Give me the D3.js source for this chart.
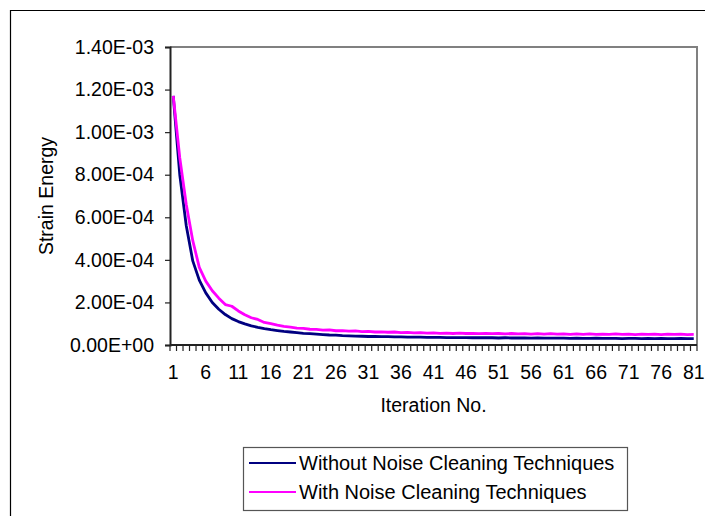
<!DOCTYPE html>
<html>
<head>
<meta charset="utf-8">
<script src="https://cdn.jsdelivr.net/npm/d3@7"></script>
<style>
    body { margin: 0; background: #fff; }
    svg text { font-family: "Liberation Sans", Arial, sans-serif; fill: #000; }
</style>
</head>
<body>
<svg id="chart" width="705" height="516"></svg>
<script>
// Iterations 1..81
const iterations = d3.range(1, 82);

// Strain energy
const withoutNoise = [
    1.170e-3, 0.800e-3, 0.560e-3, 0.395e-3, 0.305e-3, 0.245e-3, 0.200e-3, 0.168e-3, 0.143e-3, 0.124e-3,
    0.110e-3, 0.099e-3, 0.090e-3, 0.083e-3, 0.077e-3, 0.072e-3, 0.068e-3, 0.064e-3, 0.061e-3, 0.058e-3,
    0.055e-3, 0.053e-3, 0.051e-3, 0.049e-3, 0.047e-3, 0.046e-3, 0.044e-3, 0.043e-3, 0.042e-3, 0.041e-3,
    0.040e-3, 0.040e-3, 0.039e-3, 0.039e-3, 0.038e-3, 0.038e-3, 0.037e-3, 0.037e-3, 0.037e-3, 0.036e-3,
    0.036e-3, 0.036e-3, 0.035e-3, 0.035e-3, 0.035e-3, 0.035e-3, 0.034e-3, 0.034e-3, 0.034e-3, 0.034e-3,
    0.033e-3, 0.034e-3, 0.033e-3, 0.033e-3, 0.033e-3, 0.032e-3, 0.033e-3, 0.032e-3, 0.032e-3, 0.032e-3,
    0.032e-3, 0.031e-3, 0.032e-3, 0.031e-3, 0.031e-3, 0.032e-3, 0.031e-3, 0.031e-3, 0.031e-3, 0.030e-3,
    0.031e-3, 0.031e-3, 0.030e-3, 0.031e-3, 0.030e-3, 0.031e-3, 0.030e-3, 0.030e-3, 0.031e-3, 0.030e-3,
    0.030e-3
];
const withNoise = [
    1.170e-3, 0.880e-3, 0.660e-3, 0.490e-3, 0.365e-3, 0.300e-3, 0.255e-3, 0.220e-3, 0.190e-3, 0.182e-3,
    0.160e-3, 0.142e-3, 0.128e-3, 0.120e-3, 0.106e-3, 0.100e-3, 0.093e-3, 0.087e-3, 0.084e-3, 0.079e-3,
    0.078e-3, 0.074e-3, 0.073e-3, 0.070e-3, 0.071e-3, 0.067e-3, 0.068e-3, 0.065e-3, 0.066e-3, 0.063e-3,
    0.064e-3, 0.061e-3, 0.062e-3, 0.060e-3, 0.061e-3, 0.058e-3, 0.059e-3, 0.057e-3, 0.058e-3, 0.056e-3,
    0.057e-3, 0.055e-3, 0.056e-3, 0.054e-3, 0.056e-3, 0.054e-3, 0.055e-3, 0.053e-3, 0.055e-3, 0.053e-3,
    0.054e-3, 0.052e-3, 0.054e-3, 0.052e-3, 0.053e-3, 0.051e-3, 0.053e-3, 0.051e-3, 0.053e-3, 0.051e-3,
    0.052e-3, 0.050e-3, 0.052e-3, 0.050e-3, 0.052e-3, 0.050e-3, 0.051e-3, 0.050e-3, 0.052e-3, 0.050e-3,
    0.051e-3, 0.049e-3, 0.051e-3, 0.050e-3, 0.051e-3, 0.049e-3, 0.051e-3, 0.050e-3, 0.051e-3, 0.049e-3,
    0.050e-3
];

const seriesNames = ['Without Noise Cleaning Techniques', 'With Noise Cleaning Techniques'];
const seriesColors = ['#000080', '#FF00FF'];

const yTicks = [0, 2e-4, 4e-4, 6e-4, 8e-4, 10e-4, 12e-4, 14e-4];
const yTickLabels = ['0.00E+00', '2.00E-04', '4.00E-04', '6.00E-04', '8.00E-04', '1.00E-03', '1.20E-03', '1.40E-03'];
const xTickLabels = [1, 6, 11, 16, 21, 26, 31, 36, 41, 46, 51, 56, 61, 66, 71, 76, 81];

const fontSize = '19.5px';
const svg = d3.select('#chart');

// outer frame
svg.append('path')
    .attr('d', 'M10.5,516 V10.5 H705')
    .attr('fill', 'none')
    .attr('stroke', '#000')
    .attr('stroke-width', 1.2);

const plot = { left: 170, top: 47, right: 697, bottom: 345 };

const x = d3.scaleBand()
    .domain(iterations)
    .range([plot.left, plot.right])
    .padding(0);

const y = d3.scaleLinear()
    .domain([0, 1.4e-3])
    .range([plot.bottom, plot.top]);

// plot border (top / right in grey)
svg.append('path')
    .attr('d', `M${plot.left},${plot.top} H${plot.right} V${plot.bottom}`)
    .attr('fill', 'none')
    .attr('stroke', '#808080')
    .attr('stroke-width', 2);

// Y axis
const yAxis = svg.append('g')
    .attr('transform', `translate(${plot.left},0)`)
    .call(d3.axisLeft(y)
        .tickValues(yTicks)
        .tickFormat((d, i) => yTickLabels[i])
        .tickSize(5)
        .tickPadding(11));
yAxis.select('.domain').attr('stroke', '#222').attr('stroke-width', 2);
yAxis.selectAll('.tick line').attr('stroke', '#222').attr('stroke-width', 1.2);
yAxis.selectAll('text').style('font-size', fontSize);

// X axis: ticks between categories, labels every 5th
const xAxis = svg.append('g')
    .attr('transform', `translate(0,${plot.bottom})`);
xAxis.append('line')
    .attr('x1', plot.left).attr('x2', plot.right)
    .attr('stroke', '#222').attr('stroke-width', 2);
xAxis.selectAll('.xtick')
    .data(iterations.concat(['end']))
    .enter().append('line')
    .attr('class', 'xtick')
    .attr('x1', d => d === 'end' ? x.range()[1] : x(d))
    .attr('x2', d => d === 'end' ? x.range()[1] : x(d))
    .attr('y1', 0).attr('y2', 6)
    .attr('stroke', '#222').attr('stroke-width', 1.2);
xAxis.selectAll('.xlabel')
    .data(xTickLabels)
    .enter().append('text')
    .attr('class', 'xlabel')
    .attr('x', d => x(d) + x.bandwidth() / 2)
    .attr('y', 34)
    .attr('text-anchor', 'middle')
    .style('font-size', fontSize)
    .text(d => d);

// axis titles
svg.append('text')
    .attr('x', (plot.left + plot.right) / 2)
    .attr('y', 412)
    .attr('text-anchor', 'middle')
    .style('font-size', fontSize)
    .text('Iteration No.');

svg.append('text')
    .attr('transform', `translate(53,${(plot.top + plot.bottom) / 2}) rotate(-90)`)
    .attr('text-anchor', 'middle')
    .style('font-size', fontSize)
    .text('Strain Energy');

// lines
const line = d3.line()
    .x((d, i) => x(iterations[i]) + x.bandwidth() / 2)
    .y(d => y(d));

[withoutNoise, withNoise].forEach((values, k) => {
    svg.append('path')
        .datum(values)
        .attr('fill', 'none')
        .attr('stroke', seriesColors[k])
        .attr('stroke-width', 2.8)
        .attr('stroke-linejoin', 'round')
        .attr('d', line);
});

// legend
const legend = svg.append('g').attr('transform', 'translate(243,447)');
legend.append('rect')
    .attr('x', 0.5).attr('y', 0.5)
    .attr('width', 384).attr('height', 63)
    .attr('fill', '#fff')
    .attr('stroke', '#555')
    .attr('stroke-width', 1.2);
const item = legend.selectAll('.item')
    .data(seriesNames)
    .enter().append('g')
    .attr('class', 'item')
    .attr('transform', (d, i) => `translate(0,${16 + i * 29})`);
item.append('line')
    .attr('x1', 6).attr('x2', 53)
    .attr('stroke', (d, i) => seriesColors[i])
    .attr('stroke-width', 2);
item.append('text')
    .attr('x', 56)
    .attr('y', 7)
    .style('font-size', '20px')
    .text(d => d);
</script>
</body>
</html>
